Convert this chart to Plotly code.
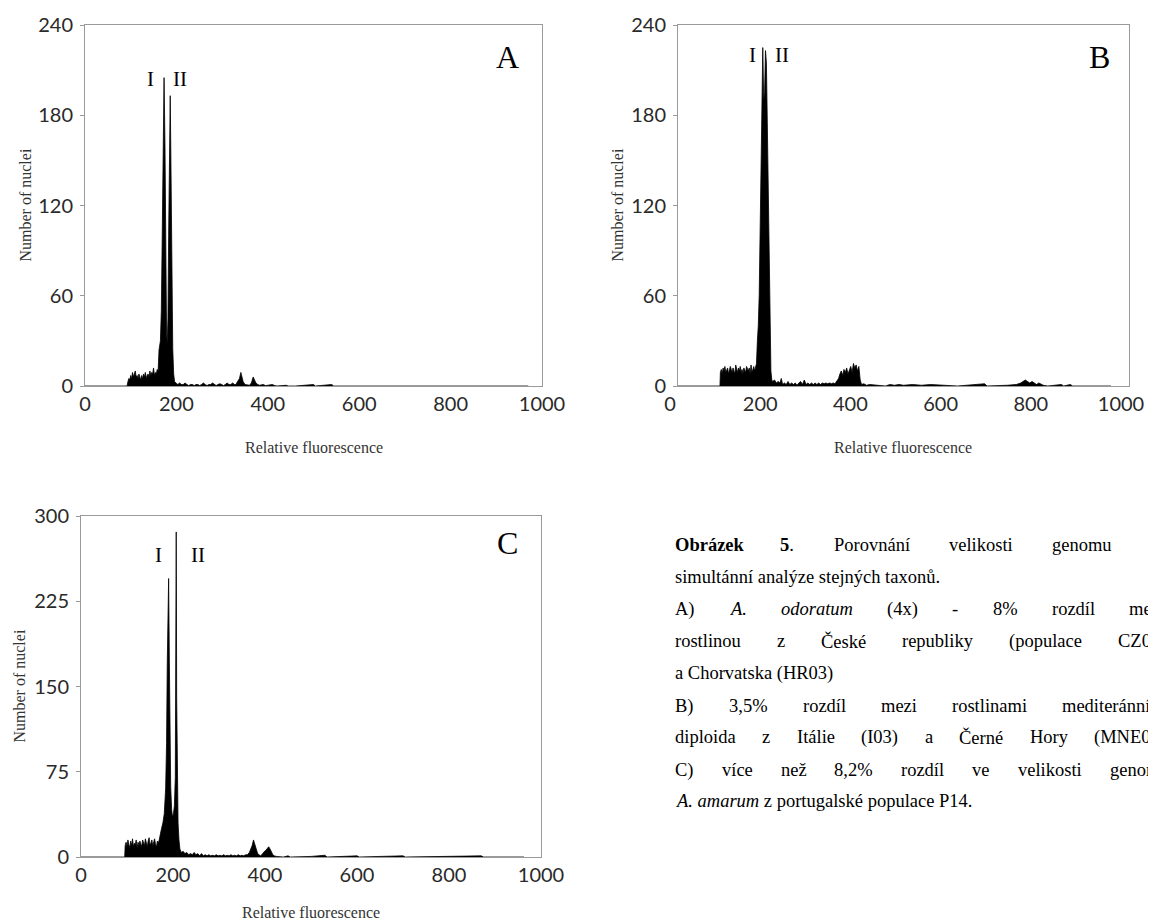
import plotly.graph_objects as go

# page is 1156 x 922; the html body has an 8 px margin, so the figure is 8 px smaller
PAGE_W, PAGE_H, OFF = 1156, 922, 8
W, H = PAGE_W - OFF, PAGE_H - OFF

# ---------------- data ----------------
A_x = [0, 92, 94, 96, 98, 100, 102, 104, 106, 108, 110, 112, 114, 116, 118, 120, 122, 124, 126, 128,
       130, 132, 134, 136, 138, 140, 142, 144, 146, 148, 150, 152, 154, 156, 158, 160, 162,
       165, 167, 169, 171, 173, 175, 177, 178.5, 180, 181.5, 183, 185, 186.5, 188, 190, 192, 194, 196,
       199, 203, 207, 211, 215, 219, 223, 227, 231, 235, 239, 243, 247, 251, 255, 259, 263, 267, 271, 275,
       279, 283, 287, 291, 295, 299, 303, 307, 311, 315, 319, 323, 327,
       330, 334, 338, 341, 343, 346, 350, 355, 360, 364, 368, 371, 374, 378, 382, 390, 395, 400, 410, 415,
       420, 440, 445, 460, 500, 504, 540, 544, 970]
A_y = [0, 0, 3, 5, 4, 7, 5, 9, 6, 8, 10, 6, 7, 5, 8, 6, 4, 7, 5, 8,
       6, 9, 5, 7, 8, 6, 10, 7, 9, 8, 12, 7, 9, 8, 11, 10, 24,
       30, 50, 100, 165, 205, 160, 80, 35, 28, 45, 100, 165, 193, 150, 80, 25, 8, 3,
       2, 1, 2, 1, 1, 2, 1, 0.3, 1, 1, 0.3, 1, 1, 0.3, 1, 2, 1, 0.3, 1, 1,
       2, 1, 0.3, 1, 1.5, 1, 0.3, 1, 2, 1, 1, 2, 1,
       1, 3, 5, 9, 6, 3, 1, 1, 0.5, 2, 6, 4, 2, 1, 0.5, 1, 0.3, 0.5, 1, 0.3,
       0, 0.5, 0, 0, 1, 0, 1, 0, 0]

B_x = [0, 93, 94, 96, 98, 100, 102, 104, 106, 108, 110, 112, 114, 116, 118, 120, 122, 124, 126, 128,
       130, 132, 134, 136, 138, 140, 142, 144, 146, 148, 150, 152, 154, 156, 158, 160, 162, 164, 166, 168,
       170, 172,
       174, 176, 178, 180, 182, 184, 186, 188, 190, 192, 194, 196, 198, 200, 202, 204, 206, 208,
       210, 214, 218, 222, 226, 229, 232, 236, 240, 244, 248, 252, 256, 260, 264, 268, 272, 276, 280,
       284, 288, 292, 296, 300, 304, 308, 312, 316, 320, 324, 328, 332, 336, 340, 344, 348, 352,
       356, 359, 362, 365, 368, 371, 374, 377, 380, 383, 386, 389, 392, 395, 398, 401, 404, 407, 412,
       418, 425, 440, 460, 470, 480, 490, 500, 520, 540, 560, 580, 600, 620, 680, 685, 730, 750, 760,
       765, 770, 775, 780, 785, 790, 795, 800, 805, 810, 820, 850, 855, 870, 875, 960]
B_y = [0, 0, 9, 11, 8, 12, 10, 13, 9, 11, 12, 8, 10, 13, 11, 9, 12, 10, 8, 14,
       11, 9, 12, 10, 13, 9, 11, 8, 12, 10, 9, 13, 11, 10, 12, 8, 14, 9, 11, 13,
       10, 12,
       15, 30, 40, 60, 95, 135, 185, 225, 190, 195, 223, 215, 175, 135, 80, 35, 10, 4,
       3, 4, 2, 3, 2, 5, 1, 2, 1, 3, 1, 2, 1, 2, 0.5, 2, 3, 1, 4,
       1, 2, 1, 2, 1, 2, 1, 2, 1, 2, 1.5, 2, 1.5, 2, 1.5, 2, 1.5, 3,
       5, 8, 10, 7, 11, 9, 12, 8, 11, 13, 9, 15, 12, 14, 10, 13, 4, 1, 1.5,
       0.5, 1, 0.5, 0, 1, 0.5, 1, 0.5, 1, 0.5, 1, 0.5, 0.5, 0, 1.5, 0, 0.5, 1, 2,
       3, 4, 3, 2, 3, 2, 1, 2, 1, 0.5, 0, 1, 0, 1, 0, 0]

C_x = [0, 95, 96, 98, 100, 102, 104, 106, 108, 110, 112, 114, 116, 118, 120, 122, 124, 126, 128, 130,
       132, 134, 136, 138, 140, 142, 144, 146, 148, 150, 152, 154, 156, 158, 160, 162, 164, 166, 168, 170,
       172, 175, 178, 181, 184, 186, 187.5, 189, 190.5, 192, 193.5, 195, 197, 199, 201, 203, 205, 206,
       207, 208, 209, 211, 213, 215, 218,
       222, 226, 230, 234, 238, 242, 246, 250, 254, 258, 262, 266, 270, 274, 278, 282, 286, 290, 294,
       298, 302, 306, 310, 314, 318, 322, 326, 330, 334, 338, 342, 346, 350, 354, 358, 362, 366, 369,
       372, 375, 378, 381, 384, 387, 390, 393, 396, 399, 402, 405, 408, 411, 414, 417, 420, 425, 440,
       450, 455, 500, 530, 535, 600, 605, 650, 700, 705, 870, 875, 963]
C_y = [0, 0, 10, 13, 9, 15, 11, 8, 14, 10, 16, 9, 12, 11, 15, 8, 13, 10, 14, 11,
       9, 15, 12, 10, 16, 13, 9, 14, 17, 11, 12, 15, 10, 13, 16, 11, 9, 14, 12, 15,
       20, 25, 30, 38, 60, 100, 170, 210, 245, 175, 105, 62, 42, 35, 38, 45, 70, 140,
       286, 140, 60, 30, 15, 7, 4,
       5, 3, 4, 2, 3, 2, 4, 2, 3, 1, 3, 1, 2, 1, 2, 1, 1.5, 1, 2,
       1, 1.5, 1, 2, 1, 1.5, 1, 2, 1, 1.5, 1, 2, 1, 1.5, 1, 2, 2, 4, 7,
       10, 15, 11, 6, 3, 2, 1, 2, 4, 5, 6, 8, 9, 7, 4, 2, 1, 0.5, 0,
       1, 0, 0.5, 1.5, 0, 1, 0, 0.5, 1, 0, 1, 0, 0]

X_TICKS = [0, 200, 400, 600, 800, 1000]
AB_Y_TICKS = [0, 60, 120, 180, 240]
C_Y_TICKS = [0, 75, 150, 225, 300]

# ---------------- layout helpers (page pixels -> paper) ----------------
def px(x):
    return (x - OFF) / W

def py(y):
    return 1 - (y - OFF) / H

panels = [
    dict(xs=A_x, ys=A_y, xd=(85, 542), yd=(25, 386), yt=AB_Y_TICKS, letter="A", lp=(508, 57),
         p1=(150, 79), p2=(180, 79), ytx=25, xty=447, shift=0),
    dict(xs=B_x, ys=B_y, xd=(678, 1129), yd=(25, 386), yt=AB_Y_TICKS, letter="B", lp=(1099, 57),
         p1=(752, 55), p2=(782, 55), ytx=617, xty=447, shift=-8),
    dict(xs=C_x, ys=C_y, xd=(81, 541), yd=(516, 857), yt=C_Y_TICKS, letter="C", lp=(507, 543),
         p1=(158, 555), p2=(198, 555), ytx=19, xty=912, shift=0),
]

TICK_FONT = dict(family="Lato", size=20, color="#2a2a2a")
SERIF = "Liberation Serif"

fig = go.Figure()
annotations = []
layout = {}

for i, p in enumerate(panels, start=1):
    suffix = "" if i == 1 else str(i)
    fig.add_trace(go.Scatter(
        x=p["xs"], y=p["ys"], mode="lines",
        line=dict(color="black", width=0.8),
        fill="tozeroy", fillcolor="black",
        xaxis="x" + suffix, yaxis="y" + suffix, showlegend=False, hoverinfo="skip"))
    layout["xaxis" + suffix] = dict(
        domain=[px(p["xd"][0]), px(p["xd"][1])], range=[0, 1000], anchor="y" + suffix,
        tickvals=X_TICKS, ticktext=[str(v) for v in X_TICKS], ticks="", ticklen=0, showgrid=False,
        zeroline=False, showline=True, linecolor="#9a9a9a", linewidth=1, mirror=True,
        tickfont=TICK_FONT, ticklabelstandoff=0, ticklabelshift=p["shift"],
        ticklabeloverflow="allow", automargin=False, fixedrange=True)
    layout["yaxis" + suffix] = dict(
        domain=[py(p["yd"][1]), py(p["yd"][0])], range=[0, p["yt"][-1]], anchor="x" + suffix,
        tickvals=p["yt"], ticktext=[str(v) for v in p["yt"]], ticks="outside", ticklen=4,
        tickcolor="#9a9a9a", showgrid=False, zeroline=False, showline=True,
        linecolor="#9a9a9a", linewidth=1, mirror=True, tickfont=TICK_FONT,
        ticklabelstandoff=3, ticklabeloverflow="allow", automargin=False, fixedrange=True)
    cx = (p["xd"][0] + p["xd"][1]) / 2
    cy = (p["yd"][0] + p["yd"][1]) / 2
    annotations += [
        dict(x=px(cx), y=py(p["xty"]), text="Relative fluorescence",
             font=dict(family=SERIF, size=16, color="#333")),
        dict(x=px(p["ytx"]), y=py(cy), text="Number of nuclei", textangle=-90,
             font=dict(family=SERIF, size=16, color="#333")),
        dict(x=px(p["lp"][0]), y=py(p["lp"][1]), text=p["letter"],
             font=dict(family=SERIF, size=32, color="black")),
        dict(x=px(p["p1"][0]), y=py(p["p1"][1]), text="I",
             font=dict(family=SERIF, size=21, color="black")),
        dict(x=px(p["p2"][0]), y=py(p["p2"][1]), text="II",
             font=dict(family=SERIF, size=21, color="black")),
    ]

# ---------------- caption (justified text, word by word) ----------------
CAP = 18.5
LEFT, RIGHT = 673, 1158
TW = {  # Times / Liberation Serif advance widths (1/1000 em)
    "a": 444, "b": 500, "c": 444, "d": 500, "e": 444, "f": 333, "g": 500, "h": 500, "i": 278,
    "j": 278, "k": 500, "l": 278, "m": 778, "n": 500, "o": 500, "p": 500, "r": 333, "s": 389,
    "t": 278, "u": 500, "v": 500, "x": 500, "y": 500, "z": 444, "á": 444, "é": 444, "í": 278,
    "ý": 500, "ů": 500, "ž": 444, "ř": 333, "Č": 667, "A": 722, "B": 667, "C": 667, "E": 611,
    "H": 722, "I": 333, "M": 889, "N": 722, "O": 722, "P": 556, "R": 667, "Z": 611, "%": 833,
    "(": 333, ")": 333, "-": 333, ".": 250, ",": 250,
}

def width(word, bold=False):
    w = sum(TW.get(ch, 500) for ch in word) * CAP / 1000
    return w * (1.06 if bold else 1.0)

def justify(words):
    # words: list of (markup, visible text, bold); the last one is cut by the page edge
    widths = [width(plain, b) for _, plain, b in words]
    gap = (RIGHT - LEFT - sum(widths)) / (len(words) - 1)
    out, x = [], LEFT
    for (markup, _, _), w in zip(words, widths):
        out.append((markup, x))
        x += w + gap
    return out

caption_lines = [
    (545, justify([("<b>Obrázek</b>", "Obrázek", True), ("<b>5</b>.", "5.", True),
                   ("Porovnání", "Porovnání", False), ("velikosti", "velikosti", False),
                   ("genomu", "genomu", False), ("při", "p", False)])),
    (577, [("simultánní analýze stejných taxonů.", LEFT)]),
    (609, justify([("A)", "A)", False), ("<i>A.</i>", "A.", False), ("<i>odoratum</i>", "odoratum", False),
                   ("(4x)", "(4x)", False), ("-", "-", False), ("8%", "8%", False),
                   ("rozdíl", "rozdíl", False), ("mezi", "mez", False)])),
    (641, justify([("rostlinou", "rostlinou", False), ("z", "z", False), ("České", "České", False),
                   ("republiky", "republiky", False), ("(populace", "(populace", False),
                   ("CZ03)", "CZ03", False)])),
    (673, [("a Chorvatska (HR03)", LEFT)]),
    (706, justify([("B)", "B)", False), ("3,5%", "3,5%", False), ("rozdíl", "rozdíl", False),
                   ("mezi", "mezi", False), ("rostlinami", "rostlinami", False),
                   ("mediteránního", "mediteránníh", False)])),
    (737, justify([("diploida", "diploida", False), ("z", "z", False), ("Itálie", "Itálie", False),
                   ("(I03)", "(I03)", False), ("a", "a", False), ("Černé", "Černé", False),
                   ("Hory", "Hory", False), ("(MNE05)", "(MNE05", False)])),
    (770, justify([("C)", "C)", False), ("více", "více", False), ("než", "než", False),
                   ("8,2%", "8,2%", False), ("rozdíl", "rozdíl", False), ("ve", "ve", False),
                   ("velikosti", "velikosti", False), ("genomu", "genom", False)])),
    (801, [("<i>A. amarum</i> z portugalské populace P14.", LEFT)]),
]
for yy, words in caption_lines:
    for txt, xx in words:
        annotations.append(dict(x=px(xx), y=py(yy), text=txt, xanchor="left", yanchor="middle",
                                font=dict(family=SERIF, size=CAP, color="black")))

for a in annotations:
    a.setdefault("xref", "paper")
    a.setdefault("yref", "paper")
    a.setdefault("showarrow", False)
    a.setdefault("xanchor", "center")
    a.setdefault("yanchor", "middle")

fig.update_layout(
    width=W, height=H, margin=dict(l=0, r=0, t=0, b=0, autoexpand=False),
    paper_bgcolor="white", plot_bgcolor="white",
    annotations=annotations, **layout)

fig.write_html("out.html")
